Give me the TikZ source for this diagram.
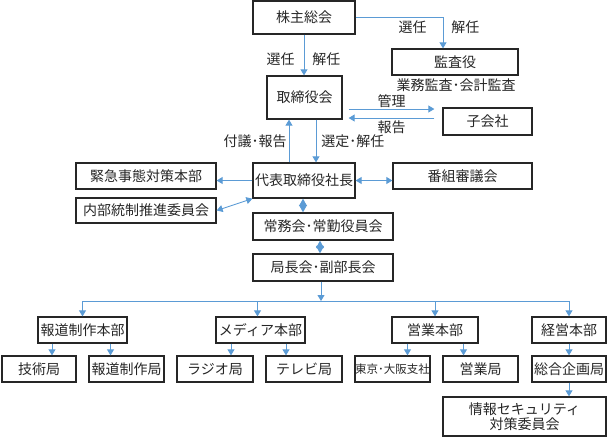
\documentclass[tikz,border=0pt]{standalone}
\usepackage{fontspec}
\setmainfont{Noto Sans CJK JP}
\usetikzlibrary{arrows.meta}
\definecolor{linkblue}{RGB}{91,155,213}
\begin{document}
\begin{tikzpicture}[
			x=1pt, y=-1pt,
			font=\fontsize{14}{15}\selectfont,
			text=black!85,
			box/.style={draw=black!85, line width=1.3pt, inner sep=0pt, align=center},
			conn/.style={draw=linkblue, line width=0.9pt, >={Triangle[width=7pt,length=6pt]}},
			dia/.style={conn, <->, >={Triangle[width=8pt,length=7.5pt]}},
			lbl/.style={inner sep=0pt}
		]
		\useasboundingbox (0,0) rectangle (607,437);

		\node[box, minimum width=102, minimum height=33] (kabunushi) at (304,17.5) {株主総会};
		\node[box, minimum width=126, minimum height=26] (kansa) at (455,62) {監査役};
		\node[lbl] (gyomu) at (456,85) {業務監査･会計監査};
		\node[box, minimum width=75, minimum height=43] (torishimari) at (304.5,97.5) {取締役会};
		\node[box, minimum width=89, minimum height=27] (kogaisha) at (487.5,121.5) {子会社};
		\node[box, minimum width=102, minimum height=35] (daihyo) at (304,180.5) {代表取締役社長};
		\node[box, minimum width=140, minimum height=26] (kinkyu) at (146,176) {緊急事態対策本部};
		\node[box, minimum width=140, minimum height=25] (naibu) at (146,210.5) {内部統制推進委員会};
		\node[box, minimum width=139, minimum height=26] (bangumi) at (462.5,176) {番組審議会};
		\node[box, minimum width=140, minimum height=27] (jomu) at (323,226.5) {常務会･常勤役員会};
		\node[box, minimum width=140, minimum height=27] (kyokucho) at (323,267.5) {局長会･副部長会};

		\node[box, minimum width=89, minimum height=26] (hodo) at (82.5,330) {報道制作本部};
		\node[box, minimum width=89, minimum height=26] (media) at (260.5,330) {メディア本部};
		\node[box, minimum width=86, minimum height=26] (eigyo) at (435,330) {営業本部};
		\node[box, minimum width=74, minimum height=26] (keiei) at (569,330) {経営本部};

		\node[box, minimum width=74, minimum height=26] (gijutsu) at (39,369) {技術局};
		\node[box, minimum width=75, minimum height=26] (hodokyoku) at (126.5,369) {報道制作局};
		\node[box, minimum width=76, minimum height=26] (radio) at (215,369) {ラジオ局};
		\node[box, minimum width=76, minimum height=26] (tv) at (304,369) {テレビ局};
		\node[box, minimum width=75, minimum height=26, font=\fontsize{11.5}{13}\selectfont] (shisha) at (392.5,369) {東京･大阪支社};
		\node[box, minimum width=75, minimum height=26] (eigyokyoku) at (480.5,369) {営業局};
		\node[box, minimum width=74, minimum height=26] (sogo) at (569,369) {総合企画局};
		\node[box, minimum width=163, minimum height=39] (joho) at (524.5,416.5) {情報セキュリティ\\対策委員会};

		\draw[conn,->] (kabunushi.south) -- (kabunushi.south |- torishimari.north)
			node[pos=0.6,left=9pt,lbl] {選任} node[pos=0.6,right=8pt,lbl] {解任};
		\draw[conn,->] (kabunushi.east) -| ([xshift=-12]kansa.north)
			node[pos=0.66,left=16pt,lbl] {選任} node[pos=0.66,right=8pt,lbl] {解任};
		\draw[conn,->] ([shift={(6,11.5)}]torishimari.east) -- ([shift={(-8,-12.5)}]kogaisha.west)
			node[midway,above=1pt,lbl] {管理};
		\draw[conn,->] ([shift={(-8,-3.5)}]kogaisha.west) -- ([shift={(6,20.5)}]torishimari.east)
			node[midway,below=2pt,lbl] {報告};
		\draw[conn,->] ([xshift=-15]daihyo.north) -- ([xshift=-15]daihyo.north |- torishimari.south)
			node[midway,left=2pt,lbl] {付議･報告};
		\draw[conn,->] ([xshift=12]daihyo.north |- torishimari.south) -- ([xshift=12]daihyo.north)
			node[midway,right=5pt,lbl] {選定･解任};

		\draw[conn,->] (daihyo.west) -- (daihyo.west -| kinkyu.east);
		\draw[conn,<->] (daihyo.east) -- (daihyo.east -| bangumi.west);
		\draw[conn,<->] (naibu.east) -- (daihyo.south west);
		\draw[dia] ([xshift=-1]daihyo.south) -- ([xshift=-1]daihyo.south |- jomu.north);
		\draw[dia] ([xshift=-3]jomu.south) -- ([xshift=-3]jomu.south |- kyokucho.north);

		\coordinate (bus) at (321,301);
		\draw[conn,->] ([xshift=-2]kyokucho.south) -- ([xshift=-2]kyokucho.south |- bus);
		\draw[conn] (hodo.north |- bus) -- (keiei.north |- bus);
		\draw[conn,->] (hodo.north |- bus) -- (hodo.north);
		\draw[conn,->] ([xshift=-3]media.north |- bus) -- ([xshift=-3]media.north);
		\draw[conn,->] (eigyo.north |- bus) -- (eigyo.north);
		\draw[conn,->] (keiei.north |- bus) -- (keiei.north);

		\draw[conn,->] ([xshift=13]gijutsu.north |- hodo.south) -- ([xshift=13]gijutsu.north);
		\draw[conn,->] ([xshift=-16]hodokyoku.north |- hodo.south) -- ([xshift=-16]hodokyoku.north);
		\draw[conn,->] ([xshift=16]radio.north |- media.south) -- ([xshift=16]radio.north);
		\draw[conn,->] ([xshift=-18]tv.north |- media.south) -- ([xshift=-18]tv.north);
		\draw[conn,->] ([xshift=15]shisha.north |- eigyo.south) -- ([xshift=15]shisha.north);
		\draw[conn,->] ([xshift=-17]eigyokyoku.north |- eigyo.south) -- ([xshift=-17]eigyokyoku.north);
		\draw[conn,->] (keiei.south) -- (sogo.north);
		\draw[conn,->] (sogo.south) -- (sogo.south |- joho.north);
	\end{tikzpicture}
\end{document}
